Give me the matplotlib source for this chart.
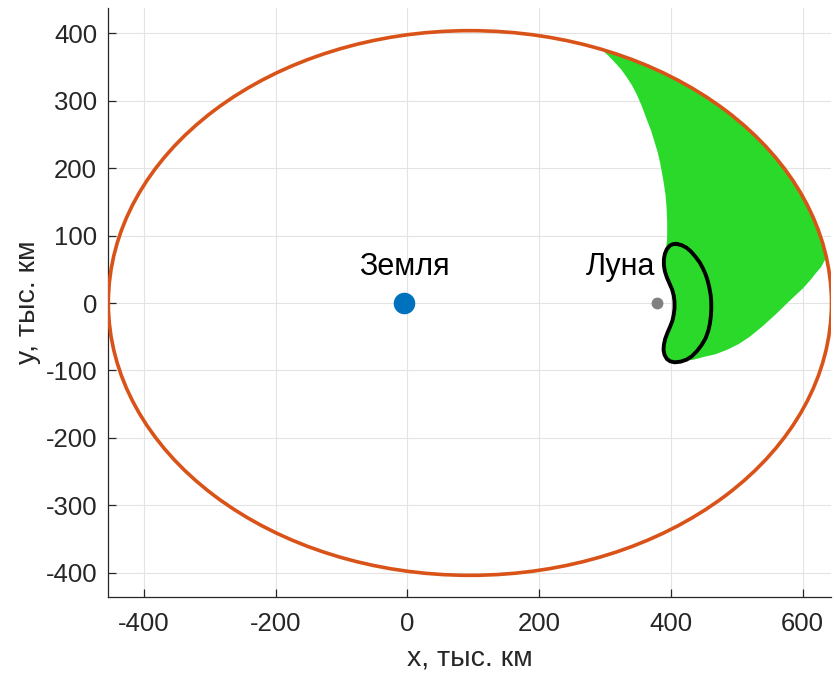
import matplotlib
matplotlib.use('Agg')
import matplotlib.pyplot as plt
from matplotlib.patches import Ellipse, Polygon
import numpy as np

plt.rcParams['font.family'] = ['Liberation Sans', 'DejaVu Sans']
plt.rcParams['axes.unicode_minus'] = False

# body positions, thousand km (barycentric frame)
earth = (-4.7, 0.0)
moon = (379.7, 0.0)

# outer ellipse: centre, full width, full height
ell_center = (95.0, 0.0)
ell_width = 1098.0
ell_height = 808.0

# closed black curve around the Moon (clockwise from the top)
curve_x = [408.6, 416.0, 424.0, 431.0, 438.0, 444.0, 449.0, 453.0, 456.0, 458.5,
           460.5, 461.4, 461.5, 461.0, 459.5, 457.0, 453.0, 447.0, 440.0, 432.0,
           424.0, 415.0, 406.0, 399.0, 394.0, 390.5, 389.0, 389.5, 391.5, 395.0,
           399.0, 402.5, 404.5, 405.6, 405.6, 404.5, 402.0, 398.0, 394.0, 391.0,
           389.5, 389.5, 391.0, 394.0, 398.5, 403.0, 408.6]
curve_y = [87.5, 86.0, 82.0, 76.0, 68.0, 60.0, 51.0, 42.0, 33.0, 23.0,
           12.0, 2.0, -8.0, -18.0, -30.0, -41.0, -52.0, -62.0, -71.0, -79.0,
           -84.0, -87.0, -88.0, -86.5, -83.0, -77.0, -70.0, -62.0, -53.0, -44.0,
           -35.0, -26.0, -17.0, -8.0, 2.0, 11.0, 20.0, 29.0, 38.0, 47.0,
           56.0, 65.0, 73.0, 80.0, 85.0, 87.3, 87.5]

# green region boundary (inner side), clipped to the ellipse afterwards
green_x = [295.0, 305.0, 315.0, 325.0, 333.0, 341.0, 348.0, 356.0, 364.0, 370.0,
           375.0, 380.0, 384.0, 389.0, 392.0, 393.5, 394.5, 394.5, 394.0, 391.0,
           389.5, 389.5, 391.0, 394.0, 398.0, 402.0, 404.5, 405.6, 405.6, 404.5,
           402.5, 399.0, 395.0, 391.5, 389.5, 389.0, 390.5, 394.0, 399.0, 406.0,
           415.0, 435.0, 450.0, 468.0, 485.0, 503.0, 520.0, 540.0, 561.0, 577.0,
           590.0, 601.0, 612.0, 620.0, 628.0, 633.0, 638.0, 720.0, 720.0, 290.0]
green_y = [376.0, 367.0, 357.0, 346.0, 335.0, 323.0, 310.0, 292.0, 271.0, 256.0,
           240.0, 224.0, 207.0, 180.0, 160.0, 143.0, 120.0, 100.0, 90.0, 73.0,
           65.0, 56.0, 47.0, 38.0, 29.0, 20.0, 11.0, 2.0, -8.0, -17.0,
           -26.0, -35.0, -44.0, -53.0, -62.0, -70.0, -77.0, -83.0, -86.5, -88.0,
           -87.0, -84.0, -80.0, -76.0, -69.6, -61.0, -50.0, -34.0, -15.3, 0.0,
           12.0, 22.0, 34.0, 44.0, 53.0, 62.0, 71.0, 80.0, 470.0, 470.0]

xticks = [-400, -200, 0, 200, 400, 600]
yticks = [-400, -300, -200, -100, 0, 100, 200, 300, 400]

fig = plt.figure(figsize=(8.34, 6.79), dpi=100)
ax = fig.add_axes([0.1299, 0.1212, 0.8671, 0.8666])

ell = Ellipse(ell_center, ell_width, ell_height, fill=False,
              ec='#D95319', lw=2.6, zorder=4)
ax.add_patch(ell)

green = Polygon(np.column_stack([green_x, green_y]), closed=True,
                fc='#2BD92B', ec='none', zorder=2)
ax.add_patch(green)
green.set_clip_path(ell)

ax.plot(curve_x, curve_y, color='k', lw=2.8, zorder=5, solid_joinstyle='round')

ax.plot(*earth, 'o', color='#0072BD', ms=14.5, zorder=6)
ax.plot(*moon, 'o', color='#808080', ms=7.5, zorder=6)
ax.text(earth[0], 41, 'Земля', fontsize=22, ha='center', va='baseline')
ax.text(376, 41, 'Луна', fontsize=22, ha='right', va='baseline')

ax.set_xlim(-454, 644)
ax.set_ylim(-435.7, 437.2)
ax.set_xticks(xticks)
ax.set_yticks(yticks)
ax.grid(True, color='#e3e3e3', lw=0.8)
ax.set_axisbelow(True)

for s in ('top', 'right'):
    ax.spines[s].set_visible(False)
for s in ('left', 'bottom'):
    ax.spines[s].set_color('#262626')
    ax.spines[s].set_linewidth(0.9)
ax.tick_params(direction='in', length=5.5, width=0.9, color='#262626',
               labelcolor='#262626', labelsize=18.5)
ax.tick_params(axis='y', pad=8)
ax.tick_params(axis='x', pad=11)

ax.set_xlabel('x, тыс. км', fontsize=20.5, color='#262626', labelpad=7)
ax.set_ylabel('y, тыс. км', fontsize=20.5, color='#262626', labelpad=3)

fig.savefig('out.png', dpi=100)
